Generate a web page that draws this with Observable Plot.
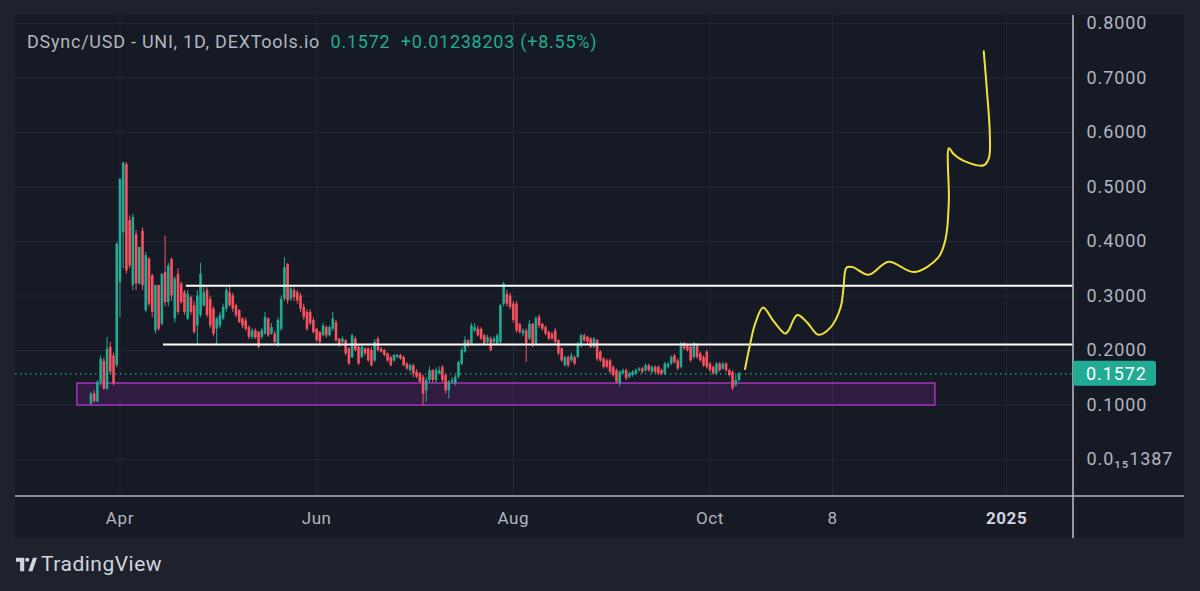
<!DOCTYPE html>
<html>
<head>
<meta charset="utf-8">
<script src="https://cdn.jsdelivr.net/npm/d3@7"></script>
<script src="https://cdn.jsdelivr.net/npm/@observablehq/plot@0.6"></script>
<style>
html,body{margin:0;padding:0;background:#1e222d;width:1200px;height:591px;overflow:hidden;font-family:Roboto,"Noto Sans",sans-serif;}
#panel{position:absolute;left:15px;top:15px;width:1169px;height:523px;background:#161a25;}
#panel svg{overflow:visible;}
#legend{position:absolute;left:27px;top:30px;font-size:18px;letter-spacing:0.75px;line-height:24px;color:#b2b5be;white-space:pre;}
#legend .v{color:#22ab94;}
#logo{position:absolute;left:16px;top:550px;height:28px;display:flex;align-items:center;color:#d1d4dc;font-size:21px;letter-spacing:0.5px;}
#logo svg{margin-right:4px;}
</style>
</head>
<body>
<div id="panel"></div>
<div id="legend">DSync/USD - UNI, 1D, DEXTools.io  <span class="v">0.1572  +0.01238203 (+8.55%)</span></div>
<div id="logo"><svg width="21" height="15" viewBox="0 0 23 15"><path d="M0 0h9v15h-4.5v-10.5h-4.5z" fill="#d1d4dc"/><circle cx="12.3" cy="2.3" r="2.3" fill="#d1d4dc"/><path d="M13.5 15l5-15h4.5l-5 15z" fill="#d1d4dc"/></svg>TradingView</div>
<script>
// ---- data ----
const startDay = "2024-03-23";
const opens = [
.102,.120,.106,.141,.180,.129,.206,.190,.172,.325,
.416,.541,.438,.319,.413,.322,.419,.273,.368,.337,
.236,.319,.248,.343,.288,.367,.258,.340,.322,.306,
.258,.297,.282,.245,.264,.282,.310,.294,.276,.239,
.245,.258,.276,.306,.300,.282,.273,.258,.254,.242,
.224,.236,.233,.224,.230,.258,.230,.230,.209,.239,
.294,.358,.294,.310,.306,.300,.279,.270,.270,.255,
.239,.233,.227,.242,.227,.239,.251,.221,.215,.218,
.203,.187,.221,.206,.187,.203,.203,.200,.181,.221,
.203,.200,.194,.187,.181,.187,.191,.187,.175,.163,
.172,.160,.157,.151,.126,.145,.163,.145,.157,.169,
.154,.126,.142,.139,.151,.175,.197,.218,.212,.236,
.239,.239,.227,.215,.221,.215,.212,.215,.285,.303,
.300,.285,.285,.248,.230,.236,.221,.248,.212,.261,
.248,.242,.233,.230,.236,.218,.203,.172,.187,.181,
.187,.187,.209,.227,.224,.221,.206,.218,.197,.184,
.181,.181,.169,.163,.139,.157,.163,.151,.154,.157,
.163,.166,.163,.172,.160,.169,.169,.163,.157,.169,
.175,.190,.181,.169,.212,.209,.206,.187,.209,.194,
.187,.197,.175,.169,.157,.175,.166,.175,.163,.160,
.136,.1448];
const highs = [
.123,.126,.145,.190,.186,.224,.215,.195,.398,.515,
.545,.545,.447,.450,.420,.390,.425,.380,.370,.340,
.320,.320,.340,.410,.360,.370,.335,.350,.325,.310,
.310,.300,.290,.310,.360,.320,.315,.300,.280,.260,
.270,.285,.315,.320,.305,.285,.275,.260,.260,.245,
.240,.240,.235,.240,.270,.260,.250,.235,.260,.300,
.371,.360,.320,.315,.310,.305,.285,.275,.275,.260,
.240,.235,.250,.245,.245,.270,.255,.222,.225,.220,
.205,.230,.225,.210,.210,.205,.205,.205,.220,.225,
.205,.202,.195,.190,.193,.193,.193,.190,.178,.175,
.175,.165,.160,.155,.150,.170,.165,.168,.170,.172,
.157,.145,.150,.155,.180,.205,.225,.220,.250,.250,
.245,.242,.230,.228,.225,.225,.230,.285,.325,.310,
.305,.290,.290,.250,.240,.240,.255,.250,.262,.265,
.250,.245,.236,.233,.240,.220,.205,.190,.190,.195,
.190,.215,.230,.230,.226,.224,.224,.220,.200,.187,
.184,.184,.172,.166,.163,.166,.166,.160,.163,.166,
.169,.169,.175,.175,.172,.172,.172,.166,.178,.178,
.190,.193,.184,.215,.215,.212,.209,.215,.212,.197,
.190,.200,.178,.172,.178,.178,.178,.178,.166,.163,
.154,.160];
const lows = [
.099,.104,.104,.135,.127,.127,.155,.135,.168,.260,
.350,.340,.350,.310,.310,.320,.310,.270,.280,.260,
.230,.235,.245,.280,.280,.290,.250,.265,.285,.265,
.255,.265,.230,.210,.260,.280,.260,.240,.225,.210,
.240,.255,.270,.280,.270,.260,.250,.240,.235,.220,
.220,.220,.203,.220,.228,.224,.228,.212,.206,.235,
.290,.285,.290,.290,.285,.270,.255,.235,.245,.230,
.215,.210,.225,.222,.225,.235,.215,.206,.212,.190,
.172,.185,.197,.172,.185,.190,.178,.170,.178,.197,
.195,.188,.178,.170,.178,.185,.182,.170,.163,.160,
.150,.148,.140,.099,.105,.140,.140,.140,.155,.140,
.120,.111,.138,.135,.148,.172,.195,.205,.210,.233,
.225,.218,.210,.212,.197,.210,.210,.210,.280,.280,
.275,.250,.232,.230,.225,.178,.218,.205,.210,.240,
.235,.227,.218,.218,.212,.190,.178,.170,.168,.178,
.172,.185,.205,.215,.212,.203,.203,.180,.178,.166,
.166,.157,.151,.139,.133,.154,.145,.148,.151,.154,
.160,.157,.160,.160,.157,.157,.154,.154,.154,.166,
.172,.175,.163,.166,.200,.197,.178,.184,.184,.178,
.169,.166,.160,.154,.154,.160,.163,.160,.151,.126,
.133,.142];
const closes = [
.120,.106,.141,.184,.129,.203,.160,.139,.395,.514,
.544,.346,.355,.444,.322,.389,.319,.374,.285,.270,
.319,.239,.340,.288,.355,.300,.331,.270,.288,.270,
.303,.270,.233,.300,.340,.306,.264,.245,.230,.258,
.264,.279,.310,.282,.276,.264,.251,.245,.239,.224,
.236,.223,.206,.236,.261,.227,.242,.215,.255,.294,
.352,.291,.313,.297,.291,.276,.261,.239,.249,.233,
.218,.215,.245,.227,.242,.258,.218,.209,.221,.194,
.175,.227,.200,.175,.206,.194,.181,.172,.215,.200,
.197,.191,.181,.172,.191,.191,.184,.172,.166,.172,
.157,.151,.142,.120,.145,.163,.145,.163,.163,.145,
.126,.142,.145,.151,.178,.200,.218,.209,.245,.242,
.227,.221,.212,.224,.200,.221,.227,.282,.322,.285,
.279,.255,.236,.233,.236,.212,.248,.212,.258,.245,
.239,.230,.221,.221,.215,.194,.181,.187,.172,.190,
.175,.212,.227,.218,.215,.206,.221,.184,.181,.169,
.169,.160,.154,.142,.160,.163,.148,.157,.160,.163,
.166,.160,.172,.163,.169,.160,.157,.157,.175,.175,
.187,.178,.166,.212,.203,.200,.181,.212,.187,.181,
.172,.169,.163,.157,.175,.163,.175,.163,.154,.130,
.1448,.1572];

// hand-drawn projection (yellow)
const yellowDates = ["2024-10-11T21:00Z","2024-10-13T11:00Z","2024-10-15T00:00Z","2024-10-17T12:00Z","2024-10-20T14:00Z","2024-10-24T08:00Z","2024-10-25T07:00Z","2024-10-28T02:00Z","2024-10-31T05:00Z","2024-11-03T14:00Z","2024-11-07T08:00Z","2024-11-10T12:00Z","2024-11-11T10:00Z","2024-11-12T08:00Z","2024-11-14T05:00Z","2024-11-19T05:00Z","2024-11-25T10:00Z","2024-12-03T05:00Z","2024-12-10T17:00Z","2024-12-13T02:00Z","2024-12-14T02:00Z","2024-12-14T03:00Z","2024-12-15T15:00Z","2024-12-18T17:00Z","2024-12-24T22:00Z","2024-12-26T12:00Z","2024-12-26T19:00Z","2024-12-25T22:00Z","2024-12-24T22:00Z"];
const yellowPrices = [.166,.212,.249,.279,.255,.231,.236,.265,.251,.229,.242,.279,.315,.352,.353,.339,.363,.344,.370,.405,.474,.571,.560,.548,.540,.553,.597,.676,.749];

// horizontal levels (white)
const levelPrices = [0.319, 0.211];
const levelStarts = ["2024-04-21T14:00Z", "2024-04-14T12:00Z"];

// support zone (purple)
const zoneStart = "2024-03-18T19:00Z", zoneEnd = "2024-12-09T22:00Z";
const zoneLow = 0.099, zoneHigh = 0.1394;

// axes
const xDomain = ["2024-02-28T14:24Z", "2025-01-21T18:00Z"];
const yDomain = [-0.0679, 0.8147];
const xTickDates = ["2024-04-01","2024-06-01","2024-08-01","2024-10-01","2024-11-08"];
const xTickLabels = ["Apr","Jun","Aug","Oct","8"];
const yearTickDate = "2025-01-01", yearTickLabel = "2025";
const yTicks = [0,0.1,0.2,0.3,0.4,0.5,0.6,0.7,0.8];
const yTickLabels = ["0.0\u2081\u20851387","0.1000","0.2000","0.3000","0.4000","0.5000","0.6000","0.7000","0.8000"];

// ---- build ----
const UP = "#22ab94", DOWN = "#f7525f", GRID = "#242834";
const t0 = new Date(startDay + "T00:00:00Z");
const candles = closes.map((c, i) => ({
  date: d3.utcDay.offset(t0, i), open: opens[i], high: highs[i], low: lows[i], close: c
}));
const yellow = yellowDates.map((d, i) => ({date: new Date(d), price: yellowPrices[i]}));
const xEnd = new Date(xDomain[1]);
const levels = levelPrices.map((p, i) => ({price: p, x1: new Date(levelStarts[i]), x2: xEnd}));
const zone = [{x1: new Date(zoneStart), x2: new Date(zoneEnd), y1: zoneLow, y2: zoneHigh}];
const lastClose = closes[closes.length - 1];
const xTicks = xTickDates.map(d => new Date(d + "T00:00:00Z"));
const xLabelMap = new Map(xTicks.map((d, i) => [+d, xTickLabels[i]]));
const yearTick = new Date(yearTickDate + "T00:00:00Z");
const yLabelMap = new Map(yTicks.map((v, i) => [v, yTickLabels[i]]));
const color = d => d.close >= d.open ? UP : DOWN;

const W = 1169, H = 523, mR = 111, mB = 42;
const chart = Plot.plot({
  width: W, height: H,
  marginLeft: 0, marginRight: mR, marginTop: 0, marginBottom: mB,
  style: {background: "transparent", color: "#b2b5be", fontFamily: "Roboto, 'Noto Sans', sans-serif", overflow: "visible"},
  x: {type: "utc", domain: xDomain.map(d => new Date(d))},
  y: {domain: yDomain},
  marks: [
    Plot.gridY(yTicks, {stroke: GRID, strokeOpacity: 1}),
    Plot.gridX([...xTicks, yearTick], {stroke: GRID, strokeOpacity: 1}),
    Plot.rect(zone, {x1: "x1", x2: "x2", y1: "y1", y2: "y2", fill: "#9c27b0", fillOpacity: 0.2, stroke: "#a434bd", strokeWidth: 1.5}),
    Plot.ruleY([lastClose], {stroke: UP, strokeWidth: 1.3, strokeDasharray: "1.5,3.5"}),
    Plot.ruleX(candles, {x: "date", y1: "low", y2: "high", stroke: color, strokeWidth: 1}),
    Plot.ruleX(candles, {x: "date", y1: "open", y2: "close", stroke: color, strokeWidth: 2.6}),
    Plot.ruleY(levels, {y: "price", x1: "x1", x2: "x2", stroke: "#ffffff", strokeWidth: 2}),
    Plot.line(yellow, {x: "date", y: "price", curve: "catmull-rom", stroke: "#f2e13a", strokeWidth: 2}),
    Plot.axisY(yTicks, {anchor: "right", tickSize: 0, tickPadding: 13, fontSize: 18, tickFormat: v => yLabelMap.get(v), fill: "#b2b5be"}),
    Plot.axisX(xTicks, {anchor: "bottom", tickSize: 0, tickPadding: 15, fontSize: 17, tickFormat: d => xLabelMap.get(+d), fill: "#b2b5be"}),
    Plot.axisX([yearTick], {anchor: "bottom", tickSize: 0, tickPadding: 15, fontSize: 17, fontWeight: "bold", tickFormat: () => yearTickLabel, fill: "#d1d4dc"})
  ]
});

const svg = d3.select(chart);
// spacing of axis texts like TradingView's font
svg.selectAll("g[aria-label='y-axis tick label'] text").style("letter-spacing", "0.9px");
svg.selectAll("g[aria-label='x-axis tick label'] text").style("letter-spacing", "0.6px");
const px = W - mR, py = H - mB;
svg.append("line").attr("x1", 0).attr("x2", W).attr("y1", py).attr("y2", py)
  .attr("stroke", "#b2b5be").attr("stroke-width", 1.6);
svg.append("line").attr("x1", px).attr("x2", px).attr("y1", 0).attr("y2", H)
  .attr("stroke", "#b2b5be").attr("stroke-width", 1.6);
const by = chart.scale("y").apply(lastClose);
svg.append("rect").attr("x", px).attr("y", by - 12.5).attr("width", 83).attr("height", 25)
  .attr("rx", 3).attr("fill", UP);
svg.append("text").attr("x", px + 13).attr("y", by).attr("dy", "0.35em")
  .attr("text-anchor", "start").style("letter-spacing", "0.9px")
  .attr("fill", "#ffffff").attr("font-size", 18).text(lastClose.toFixed(4));

document.getElementById("panel").appendChild(chart);
</script>
</body>
</html>
